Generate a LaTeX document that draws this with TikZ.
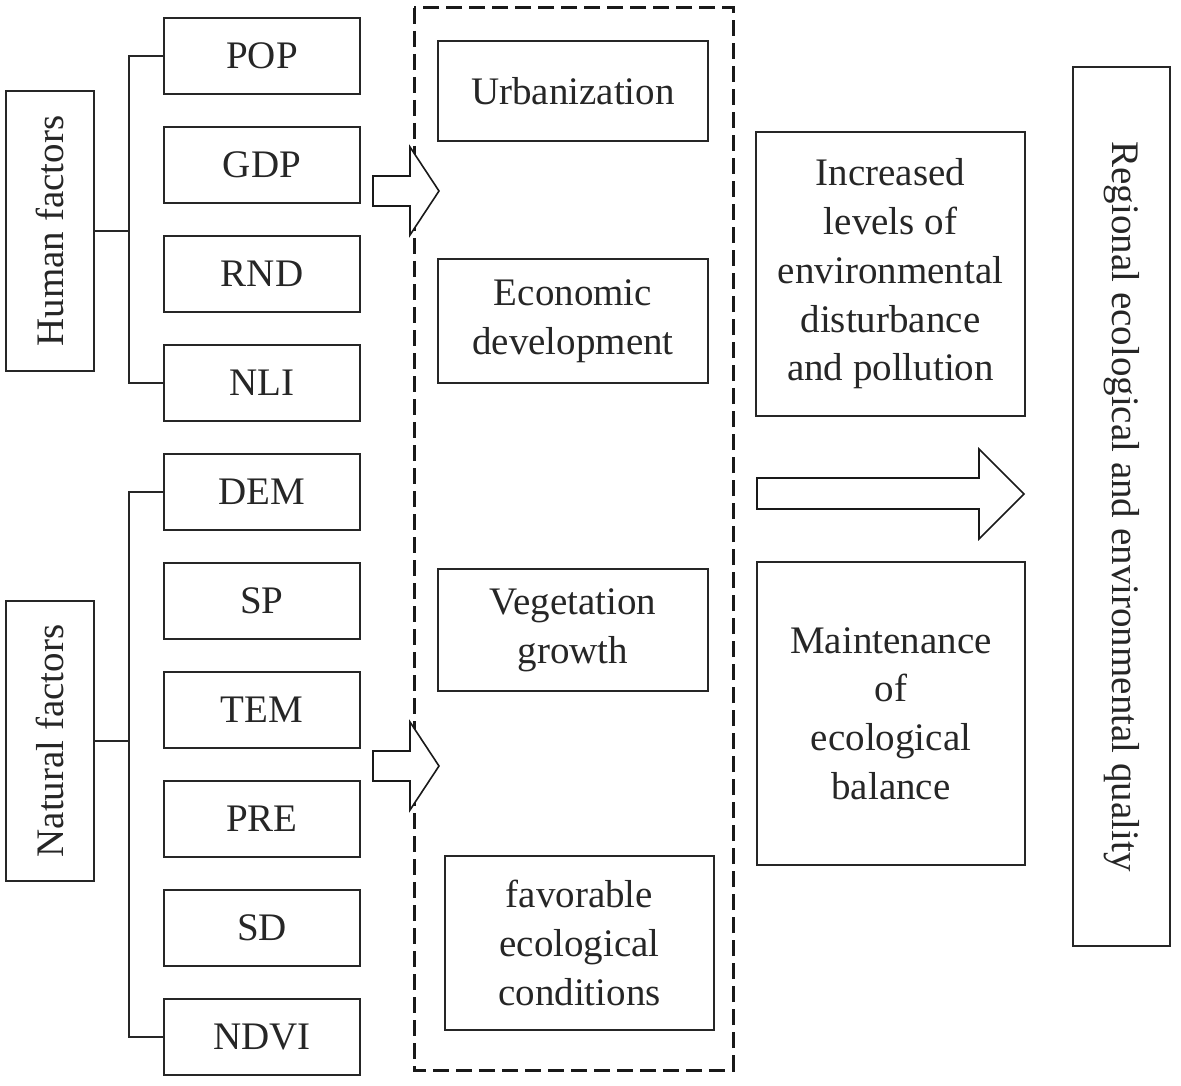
\documentclass[tikz,border=0pt]{standalone}
\usepackage{fontspec}
\setmainfont{Liberation Serif}
\begin{document}
\begin{tikzpicture}[x=1pt,y=-1pt,
  box/.style={draw=black!85, line width=1.6pt, inner sep=0pt, align=center,
    font=\fontsize{39}{48.7}\selectfont, text=black!85},
  fbox/.style={box, minimum width=196pt, minimum height=76pt},
  wire/.style={draw=black!85, line width=1.6pt},
  blockarrow/.style={draw=black!90, line width=1.6pt, fill=white, line join=miter},
  dashbox/.style={draw=black!90, line width=3pt, dash pattern=on 16pt off 7pt}]
\useasboundingbox (0,0) rectangle (1181,1086);
% dashed container
\draw[dashbox] (414,8) rectangle (733,1070);
% left group boxes
\node[box, rotate=90, minimum width=280pt, minimum height=88pt] (human) at (50,231) {Human factors};
\node[box, rotate=90, minimum width=280pt, minimum height=88pt] (natural) at (50,741) {Natural factors};
\node[fbox] (pop) at (262,56) {POP};
\node[fbox] (gdp) at (262,165) {GDP};
\node[fbox] (rnd) at (262,274) {RND};
\node[fbox] (nli) at (262,383) {NLI};
\node[fbox] (dem) at (262,492) {DEM};
\node[fbox] (sp) at (262,601) {SP};
\node[fbox] (tem) at (262,710) {TEM};
\node[fbox] (pre) at (262,819) {PRE};
\node[fbox] (sd) at (262,928) {SD};
\node[fbox] (ndvi) at (262,1037) {NDVI};
% brackets
\coordinate (hj) at (129,231);
\coordinate (nj) at (129,741);
\draw[wire] (pop.west) -| (hj) |- (nli.west);
\draw[wire] (human.south) -- (hj);
\draw[wire] (dem.west) -| (nj) |- (ndvi.west);
\draw[wire] (natural.south) -- (nj);
% middle boxes
\node[box, minimum width=270pt, minimum height=100pt] (urb) at (573,91) {Urbanization};
\node[box, minimum width=270pt, minimum height=124pt] (eco) at (573,321) {Economic\\development};
\node[box, minimum width=270pt, minimum height=122pt] (veg) at (573,630) {Vegetation\\growth};
\node[box, minimum width=269pt, minimum height=174pt] (fav) at (579.5,943) {favorable\\ecological\\conditions};
% right boxes
\node[box, minimum width=269pt, minimum height=284pt] (inc) at (890.5,274) {Increased\\levels of\\environmental\\disturbance\\and pollution};
\node[box, minimum width=268pt, minimum height=303pt] (mai) at (891,713.5) {Maintenance\\of\\ecological\\balance};
\node[box, rotate=-90, minimum width=879pt, minimum height=97pt] (reg) at (1121.5,506.5) {Regional ecological and environmental quality};
% block arrows
\draw[blockarrow] (373,176) -- (410,176) -- (410,147) -- (439,191) -- (410,235) -- (410,206) -- (373,206) -- cycle;
\draw[blockarrow] (373,751) -- (410,751) -- (410,722) -- (439,766) -- (410,810) -- (410,781) -- (373,781) -- cycle;
\draw[blockarrow] (757,478) -- (979,478) -- (979,449) -- (1024,494) -- (979,539) -- (979,509) -- (757,509) -- cycle;
\end{tikzpicture}
\end{document}
